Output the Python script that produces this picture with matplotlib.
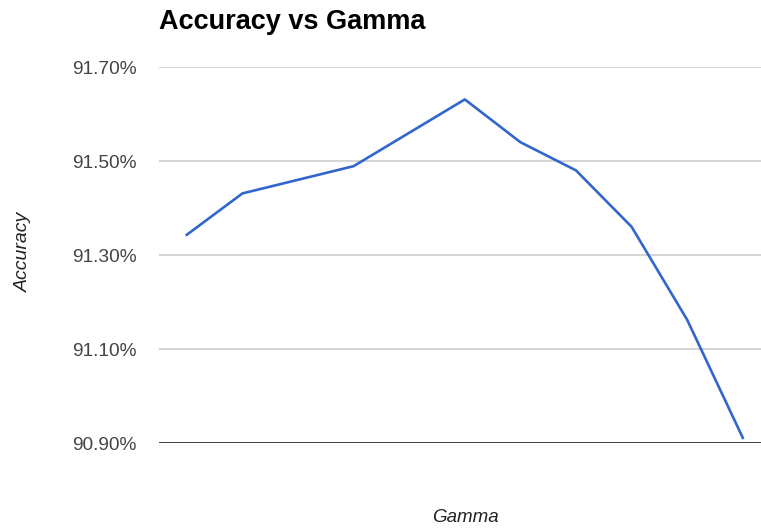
import matplotlib
matplotlib.use("Agg")
import matplotlib.pyplot as plt
from matplotlib.ticker import FuncFormatter

plt.rcParams['font.family'] = ['Liberation Sans', 'DejaVu Sans']

gamma_idx = list(range(11))
accuracy = [91.343, 91.431, 91.46, 91.489, 91.56, 91.631,
            91.540, 91.480, 91.360, 91.162, 90.911]
y_ticks = [90.90, 91.10, 91.30, 91.50, 91.70]

fig = plt.figure(figsize=(7.61, 5.29), dpi=100)
ax = fig.add_axes([159 / 761, 86 / 529, 611.6 / 761, 376 / 529])

ax.plot(gamma_idx, accuracy, color='#3366cc', linewidth=1.9, solid_joinstyle='round')

ax.set_xlim(-0.5, 10.5)
ax.set_ylim(90.90, 91.70)
ax.set_yticks(y_ticks)
ax.yaxis.set_major_formatter(FuncFormatter(lambda v, p: '%.2f%%' % v))
ax.set_xticks([])
ax.grid(axis='y', color='#cccccc', linewidth=1.2)
ax.axhline(90.90, color='#333333', linewidth=1.3, zorder=3)
ax.set_axisbelow(True)
for s in ax.spines.values():
    s.set_visible(False)
ax.tick_params(axis='y', length=0, pad=16, labelsize=13.8, labelcolor='#444444')

fig.text(159 / 761, 1 - 29 / 529, 'Accuracy vs Gamma', fontsize=19.5,
         fontweight='bold', color='black', ha='left', va='baseline')
fig.text(23.5 / 761, 1 - 252 / 529, 'Accuracy', fontsize=14, style='italic',
         color='#222222', rotation=90, ha='center', va='center')
fig.text(465 / 761, 1 - 518 / 529, 'Gamma', fontsize=13.5, style='italic',
         color='#222222', ha='center', va='center')

fig.savefig('out.png', dpi=100)
